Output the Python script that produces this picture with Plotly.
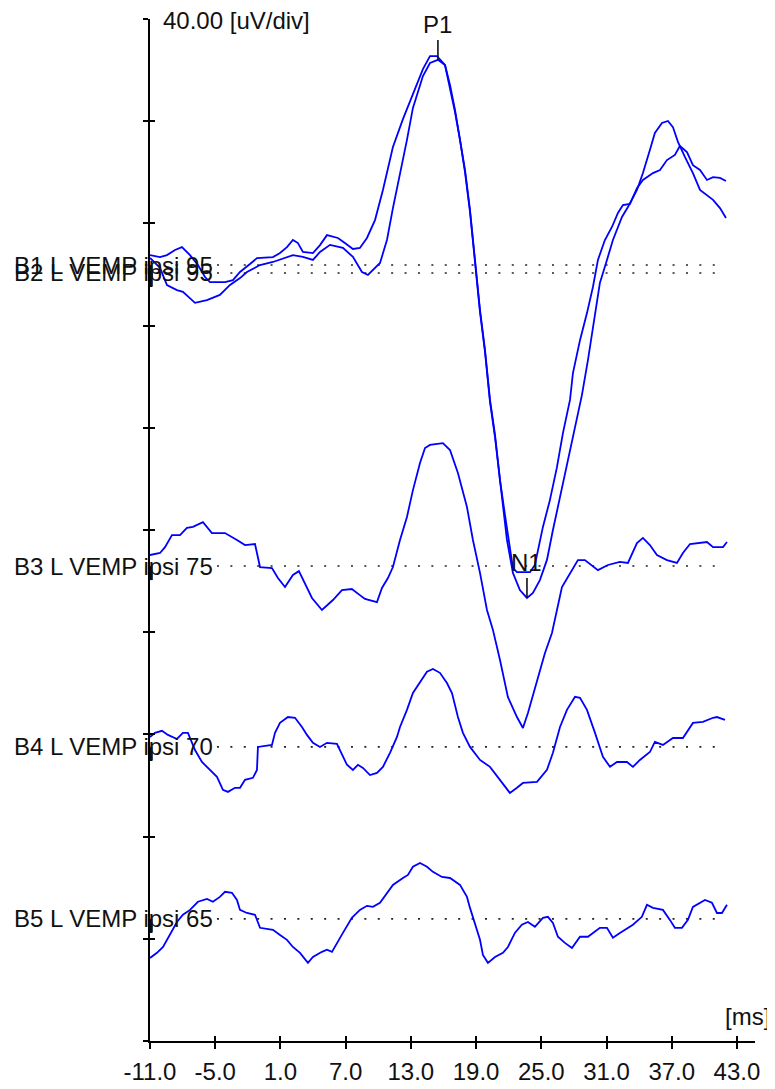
import plotly.graph_objects as go

# ---- data (latency in ms, amplitude in uV relative to each trace baseline) ----
b1_t = [-11.0,-10.08,-9.44,-8.70,-8.06,-7.32,-6.59,-5.94,-5.48,-4.10,-3.37,-2.72,-1.80,-1.16,0.31,0.96,1.60,2.15,2.61,3.07,
        3.99,4.64,5.28,6.29,6.93,7.67,8.31,8.96,9.70,10.43,11.35,12.27,13.19,14.11,14.76,15.40,16.14,16.60,17.06,17.52,
        17.98,18.44,18.90,19.36,19.82,20.28,20.74,21.20,21.66,22.11,22.39,22.76,23.96,24.41,24.69,25.15,25.79,26.44,26.99,27.64,
        27.91,28.56,29.20,29.75,30.21,30.85,31.50,32.05,32.51,33.16,33.80,34.35,35.27,35.92,36.56,37.29,37.75,38.40,38.95,39.60,
        40.24,40.80,41.44,41.99]
b1_v = [3.9,3.1,3.9,5.9,7.0,3.9,0.0,-4.7,-6.7,-6.7,-5.9,-2.7,0.4,2.7,3.1,4.7,7.0,9.8,8.6,5.1,
        4.7,7.8,11.7,10.6,8.6,6.3,6.7,10.6,17.6,29.4,46.2,57.1,66.9,76.7,81.8,81.8,78.3,70.5,60.7,49.7,
        37.2,21.5,1.2,-17.6,-33.3,-52.8,-66.5,-84.2,-97.9,-110.8,-118.6,-120.2,-120.2,-117.4,-111.5,-102.5,-92.0,-79.1,-65.8,-52.8,
        -42.3,-29.4,-18.8,-8.6,2.0,9.8,14.9,20.4,23.5,23.9,30.1,33.3,36.0,37.2,41.1,43.1,46.6,44.2,39.1,37.2,
        33.3,34.4,34.1,32.9]

b2_t = [-11.0,-10.08,-9.44,-8.52,-7.97,-6.86,-5.76,-4.57,-3.64,-2.72,-2.08,-0.88,0.31,1.60,2.15,3.07,3.99,4.64,5.56,6.75,
        7.67,8.50,9.05,10.16,10.80,11.35,11.99,12.64,13.19,14.11,14.76,15.49,16.14,16.60,17.06,17.52,17.98,18.44,18.90,19.36,
        19.82,20.28,20.74,21.20,21.84,22.39,23.03,23.68,24.23,24.87,25.52,26.07,26.72,27.36,28.10,28.74,29.29,29.94,30.39,31.04,
        31.59,32.42,32.97,33.80,34.35,34.99,35.45,36.10,36.65,37.11,37.57,38.21,38.95,39.60,40.24,40.80,41.44,41.99]
b2_v = [5.9,2.0,-4.7,-6.7,-7.4,-11.7,-10.6,-8.6,-4.7,-2.0,0.4,3.1,4.3,6.3,7.0,6.3,5.1,8.2,11.0,9.8,
        6.3,0.4,-0.8,3.9,12.9,25.4,38.0,52.1,64.6,77.1,82.2,83.4,81.4,72.8,63.0,52.1,39.5,23.9,3.5,-15.3,
        -30.9,-50.5,-64.2,-81.8,-104.5,-117.4,-124.1,-127.2,-125.2,-120.2,-112.3,-100.6,-87.7,-74.0,-60.3,-47.7,-34.1,-15.7,-3.9,5.1,
        12.9,21.9,25.8,32.5,39.1,48.1,54.8,58.7,59.5,57.1,51.3,45.4,39.1,32.5,30.5,28.6,25.4,21.5]

b3_t = [-11.0,-10.08,-9.62,-8.98,-8.24,-7.60,-7.05,-6.13,-5.30,-4.10,-3.00,-2.26,-1.34,-0.88,0.22,0.77,1.42,2.15,2.70,3.26,
        3.90,4.82,5.83,6.66,7.57,8.31,8.78,9.88,10.34,10.89,11.35,12.0,12.64,13.19,13.84,14.30,14.76,15.95,16.60,17.33,
        18.16,18.71,19.36,20.0,20.55,21.20,21.93,22.76,23.31,23.77,24.60,25.33,25.98,26.44,26.90,27.45,28.37,29.01,30.21,31.13,
        32.23,32.97,33.80,34.35,34.99,35.64,36.56,37.48,38.03,38.68,39.60,40.24,40.80,41.72,42.08]
b3_v = [4.3,5.1,7.4,12.1,12.1,14.9,15.3,17.2,12.9,12.9,10.2,8.2,8.6,-0.4,-0.8,-4.7,-8.2,-3.5,-2.0,-6.7,
        -12.5,-17.2,-13.3,-9.4,-9.0,-11.4,-12.9,-14.1,-8.6,-4.7,-0.4,10.2,19.2,29.7,40.3,46.2,47.4,48.1,45.4,36.4,
        23.1,10.2,-2.7,-17.2,-25.0,-36.8,-51.3,-59.1,-63.4,-57.5,-44.6,-34.1,-26.2,-17.2,-8.2,-4.3,2.3,2.3,-1.6,0.4,
        1.6,1.2,9.0,11.0,8.2,4.3,2.3,1.2,5.1,8.6,9.0,9.4,7.4,7.4,9.4]

b4_t = [-11.0,-10.54,-9.90,-9.35,-8.52,-7.97,-7.51,-6.86,-6.22,-5.48,-4.84,-4.29,-3.83,-3.18,-2.72,-2.26,-1.53,-1.16,-1.07,0.22,
        0.50,0.96,1.69,2.34,2.98,3.44,3.99,4.64,5.28,6.20,6.66,7.12,7.67,8.13,8.59,9.24,9.88,10.43,11.08,11.72,
        12.0,12.64,13.19,13.84,14.48,15.03,15.67,16.32,16.78,17.33,17.79,18.44,19.36,20.28,21.20,22.11,22.76,23.31,24.60,25.52,
        26.07,26.72,27.36,28.10,28.56,29.20,29.94,30.67,31.32,31.96,32.88,33.43,34.07,34.99,35.45,36.19,37.11,38.03,38.95,39.87,
        40.80,41.16,41.90]
b4_v = [3.9,5.5,6.3,4.7,3.1,5.5,5.5,-1.2,-5.9,-9.0,-11.7,-16.8,-17.6,-16.0,-16.0,-12.9,-12.1,-9.0,0.0,0.8,
        5.5,9.4,11.7,11.4,7.8,4.7,1.6,0.0,1.6,1.2,-3.1,-7.0,-9.0,-7.0,-8.2,-11.0,-10.2,-7.8,-2.3,3.9,
        7.8,14.5,21.1,25.4,29.4,30.5,29.0,25.0,21.1,11.7,5.5,0.0,-5.1,-7.8,-12.9,-18.0,-16.0,-14.1,-13.7,-9.0,
        -2.3,7.8,14.5,19.6,19.2,14.5,5.5,-3.9,-7.8,-5.9,-5.9,-7.8,-5.1,-2.0,2.0,0.8,3.5,3.5,9.4,9.8,
        11.4,11.7,10.6]

b5_t = [-11.0,-10.36,-9.80,-9.16,-8.52,-7.97,-7.32,-6.59,-5.76,-5.21,-4.57,-4.10,-3.46,-3.00,-2.72,-2.08,-1.34,-0.88,0.31,0.96,
        1.60,2.15,2.80,3.53,3.99,4.82,5.28,5.74,6.20,6.75,7.57,8.31,8.96,9.51,10.16,10.89,11.35,12.27,12.73,13.19,
        13.84,14.48,15.03,15.86,16.60,17.52,18.16,18.44,18.90,19.36,19.63,20.09,20.74,21.47,21.93,22.57,23.21,23.77,24.41,25.15,
        25.61,26.07,26.53,27.17,27.82,28.56,29.29,30.39,31.04,31.59,32.23,33.43,34.25,34.72,35.27,36.19,36.83,37.29,37.94,38.49,
        38.95,39.60,40.06,40.70,41.16,41.62,42.08]
b5_v = [-15.3,-13.3,-11.0,-6.3,-1.2,1.6,3.5,6.7,7.8,6.7,8.6,10.6,10.2,7.4,3.5,2.3,1.6,-3.5,-4.3,-6.3,
        -8.2,-11.0,-13.3,-17.2,-14.9,-12.9,-12.1,-12.9,-9.4,-5.5,0.4,3.5,5.1,4.7,6.3,10.6,13.3,16.0,17.2,20.4,
        21.9,20.4,18.4,16.4,16.0,13.3,8.6,4.3,-1.6,-8.2,-14.1,-17.2,-14.9,-13.3,-11.0,-5.5,-2.3,-1.2,-3.1,0.4,
        0.8,-1.6,-7.0,-9.4,-11.4,-7.0,-7.0,-3.5,-3.5,-7.4,-5.5,-2.3,0.8,5.5,4.3,3.5,-0.4,-3.5,-3.5,-0.4,
        4.7,6.3,7.4,6.3,2.3,2.3,5.5]

trace_names = ["B1 L VEMP ipsi 95", "B2 L VEMP ipsi 95", "B3 L VEMP ipsi 75",
               "B4 L VEMP ipsi 70", "B5 L VEMP ipsi 65"]
x_ticks = [-11.0, -5.0, 1.0, 7.0, 13.0, 19.0, 25.0, 31.0, 37.0, 43.0]
peak_labels = ["P1", "N1"]
peak_latency = [15.49, 23.68]      # ms, on B2
peak_amp = [83.4, -127.2]          # uV, on B2

# ---- layout constants ----
offsets = [303.7, 300.6, 185.9, 115.1, 47.8]   # vertical placement of each baseline (uV on 40 uV/div scale)
Y_RANGE = [0, 400]
X_RANGE = [-11.0, 44.66]
BLUE = "#0000ff"
FONT = "Liberation Sans, Arial, sans-serif"
FS = 24

series = [(b1_t, b1_v), (b2_t, b2_v), (b3_t, b3_v), (b4_t, b4_v), (b5_t, b5_v)]

fig = go.Figure()

# dotted baselines
for off in offsets:
    fig.add_trace(go.Scatter(x=[-4.84, 41.16], y=[off, off], mode="lines",
                             line=dict(color="#222222", width=1.6, dash="2px,11.4px"),
                             hoverinfo="skip", showlegend=False))

# waveforms
for (t, v), off in zip(series, offsets):
    fig.add_trace(go.Scatter(x=t, y=[a + off for a in v], mode="lines",
                             line=dict(color=BLUE, width=1.8),
                             hoverinfo="skip", showlegend=False))

# baseline markers on the axis
for off in offsets:
    fig.add_trace(go.Scatter(x=[-11.0, -11.0], y=[off, off - 5.5], mode="lines",
                             line=dict(color="black", width=5),
                             hoverinfo="skip", showlegend=False))

# dummy trace for overlay axes (inside ticks)
fig.add_trace(go.Scatter(x=[-11.0], y=[0], xaxis="x2", yaxis="y2", mode="markers",
                         marker=dict(opacity=0), hoverinfo="skip", showlegend=False))

annotations = []
for name, off in zip(trace_names, offsets):
    annotations.append(dict(text=name, xref="paper", yref="y", x=-0.228, y=off,
                            xanchor="left", yanchor="middle", showarrow=False,
                            font=dict(family=FONT, size=FS, color="#111111")))

# peak markers (on B2)
for lab, lt, la in zip(peak_labels, peak_latency, peak_amp):
    annotations.append(dict(text=lab, x=lt, y=la + offsets[1], xref="x", yref="y",
                            showarrow=True, arrowhead=0, arrowwidth=1.6, arrowcolor="#111111",
                            ax=0, ay=-35, standoff=0,
                            font=dict(family=FONT, size=FS, color="#111111")))

annotations.append(dict(text="40.00 [uV/div]", xref="paper", yref="paper", x=0.019, y=1.0,
                        xanchor="left", yanchor="middle", yshift=-1, showarrow=False,
                        font=dict(family=FONT, size=FS, color="#111111")))
annotations.append(dict(text="[ms]", xref="paper", yref="paper", x=1.028, y=0.0235,
                        xanchor="right", yanchor="middle", showarrow=False,
                        font=dict(family=FONT, size=FS, color="#111111")))

axis_common = dict(showgrid=False, zeroline=False, showline=True, linecolor="black",
                   linewidth=2, automargin=False)

# page body adds an 8 px offset, so the figure is 8 px smaller and margins shifted
fig.update_layout(
    width=767, height=1081,
    margin=dict(l=142, r=20, t=11, b=48, autoexpand=False),
    paper_bgcolor="white", plot_bgcolor="white",
    showlegend=False,
    xaxis=dict(range=X_RANGE, tickvals=x_ticks, ticktext=[f"{v:.1f}" for v in x_ticks],
               ticks="outside", ticklen=6, tickwidth=1.6, tickcolor="black",
               ticklabelstandoff=2,
               tickfont=dict(family=FONT, size=FS, color="#111111"), **axis_common),
    yaxis=dict(range=Y_RANGE, tick0=0, dtick=40, ticks="outside", ticklen=5, tickwidth=1.6,
               tickcolor="black", showticklabels=False, **axis_common),
    xaxis2=dict(range=X_RANGE, overlaying="x", anchor="y2", tickvals=x_ticks, ticks="inside",
                ticklen=5, tickwidth=1.6, tickcolor="black", showticklabels=False,
                showgrid=False, zeroline=False, showline=False),
    yaxis2=dict(range=Y_RANGE, overlaying="y", anchor="x2", side="left", tick0=0, dtick=40,
                ticks="inside", ticklen=5, tickwidth=1.6, tickcolor="black",
                showticklabels=False, showgrid=False, zeroline=False, showline=False),
    annotations=annotations,
)

fig.write_html("out.html")
